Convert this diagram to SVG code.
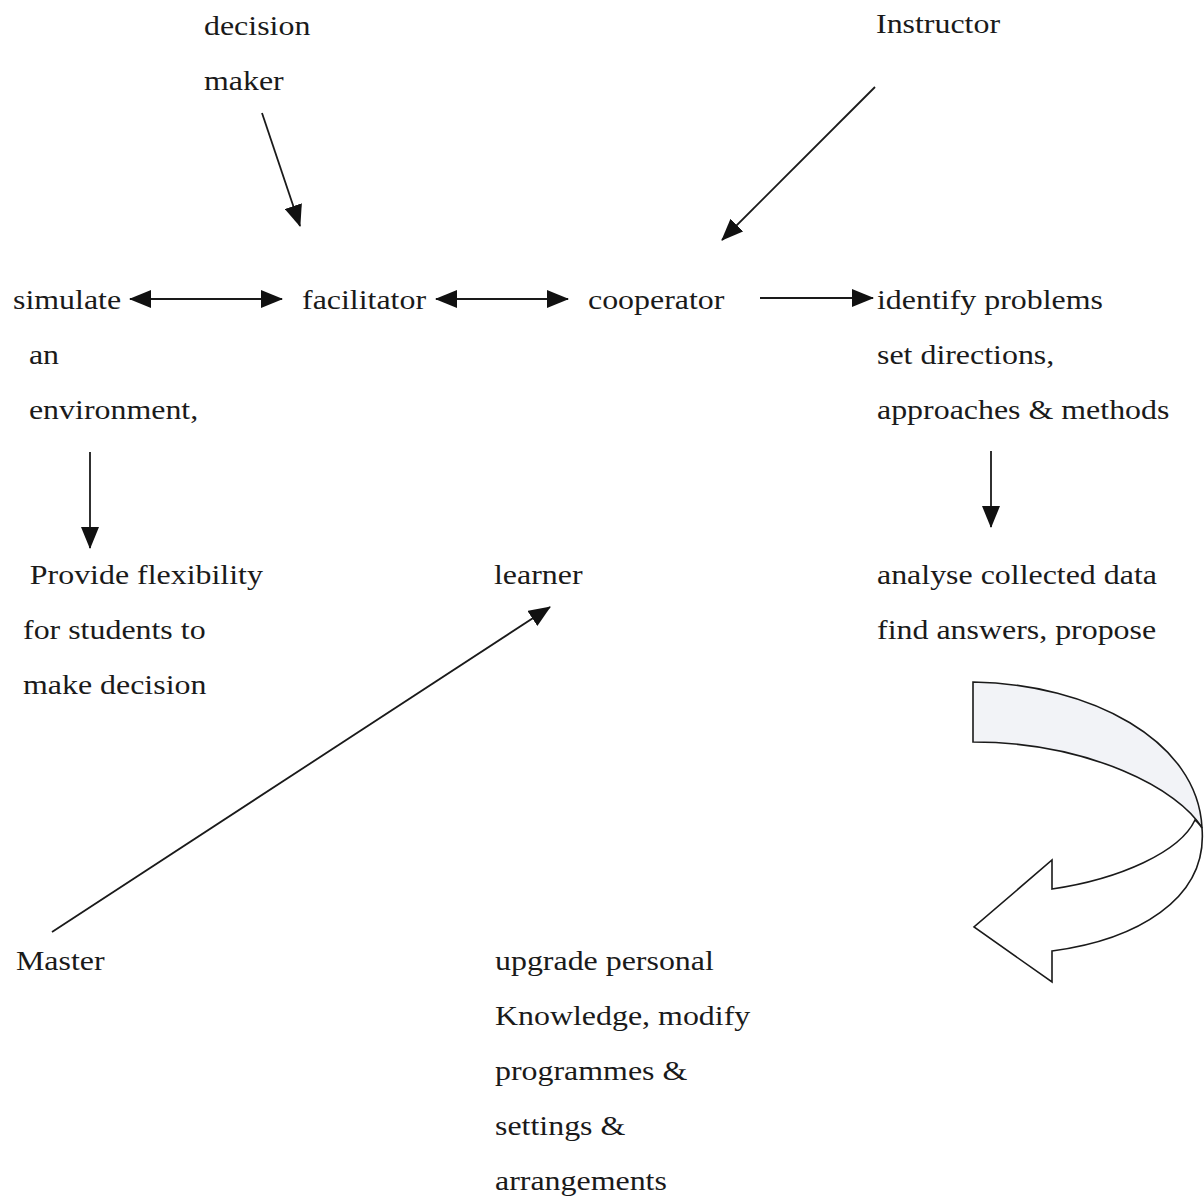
<svg xmlns="http://www.w3.org/2000/svg" width="1204" height="1197" viewBox="0 0 1204 1197">
<defs>
<style>
text{font-family:"Liberation Serif","Times New Roman",serif;font-size:28px;fill:#1a1a1a}
.c{stroke:#1a1a1a;stroke-width:1.8;fill:none}
.band{stroke:#1a1a1a;stroke-width:1.6;stroke-linejoin:miter}
</style>
<marker id="ah" viewBox="0 0 22 18" refX="21" refY="9" markerWidth="22" markerHeight="18" markerUnits="userSpaceOnUse" orient="auto-start-reverse">
<path d="M0,0 L22,9 L0,18 Z" fill="#111"/>
</marker>
</defs>
<rect width="1204" height="1197" fill="#fff"/>

<g id="decision-maker" transform="translate(204,0) scale(1.14,1)">
<text x="0" y="35">decision</text>
<text x="0" y="90">maker</text>
</g>
<g id="instructor" transform="translate(876,0) scale(1.14,1)">
<text x="0" y="33">Instructor</text>
</g>
<g id="simulate" transform="translate(13,0) scale(1.14,1)">
<text x="0" y="309">simulate</text>
<text x="14" y="364">an</text>
<text x="14" y="419">environment,</text>
</g>
<g id="facilitator" transform="translate(302,0) scale(1.14,1)">
<text x="0" y="309">facilitator</text>
</g>
<g id="cooperator" transform="translate(588,0) scale(1.14,1)">
<text x="0" y="309">cooperator</text>
</g>
<g id="identify" transform="translate(877,0) scale(1.14,1)">
<text x="0" y="309">identify problems</text>
<text x="0" y="364">set directions,</text>
<text x="0" y="419">approaches &amp; methods</text>
</g>
<g id="provide" transform="translate(23,0) scale(1.14,1)">
<text x="6" y="584">Provide flexibility</text>
<text x="0" y="639">for students to</text>
<text x="0" y="694">make decision</text>
</g>
<g id="learner" transform="translate(494,0) scale(1.14,1)">
<text x="0" y="584">learner</text>
</g>
<g id="analyse" transform="translate(877,0) scale(1.14,1)">
<text x="0" y="584">analyse collected data</text>
<text x="0" y="639">find answers, propose</text>
</g>
<g id="master" transform="translate(16,0) scale(1.14,1)">
<text x="0" y="970">Master</text>
</g>
<g id="upgrade" transform="translate(495,0) scale(1.14,1)">
<text x="0" y="970">upgrade personal</text>
<text x="0" y="1025">Knowledge, modify</text>
<text x="0" y="1080">programmes &amp;</text>
<text x="0" y="1135">settings &amp;</text>
<text x="0" y="1190">arrangements</text>
</g>

<g id="connectors">
<line class="c" x1="262" y1="113" x2="300" y2="226" marker-end="url(#ah)"/>
<line class="c" x1="875" y1="87" x2="722" y2="240" marker-end="url(#ah)"/>
<line class="c" x1="130" y1="299" x2="282" y2="299" marker-start="url(#ah)" marker-end="url(#ah)"/>
<line class="c" x1="436" y1="299" x2="568" y2="299" marker-start="url(#ah)" marker-end="url(#ah)"/>
<line class="c" x1="760" y1="298" x2="873" y2="298" marker-end="url(#ah)"/>
<line class="c" x1="90" y1="452" x2="90" y2="548" marker-end="url(#ah)"/>
<line class="c" x1="991" y1="451" x2="991" y2="527" marker-end="url(#ah)"/>
<line class="c" x1="52" y1="932" x2="550" y2="607" marker-end="url(#ah)"/>
<g id="curved-arrow">
<path class="band" fill="#f2f3f7" d="M973,682 C1090,684 1198,740 1202,828 C1180,790 1090,742 973,742 Z"/>
<path class="band" fill="#fff" d="M1202,828 C1208,900 1135,940 1052,951 L1052,982 L974,927 L1052,860 L1052,889 C1120,879 1180,852 1195,820 C1198,822 1200,825 1202,828 Z"/>
</g>
</g>
</svg>
